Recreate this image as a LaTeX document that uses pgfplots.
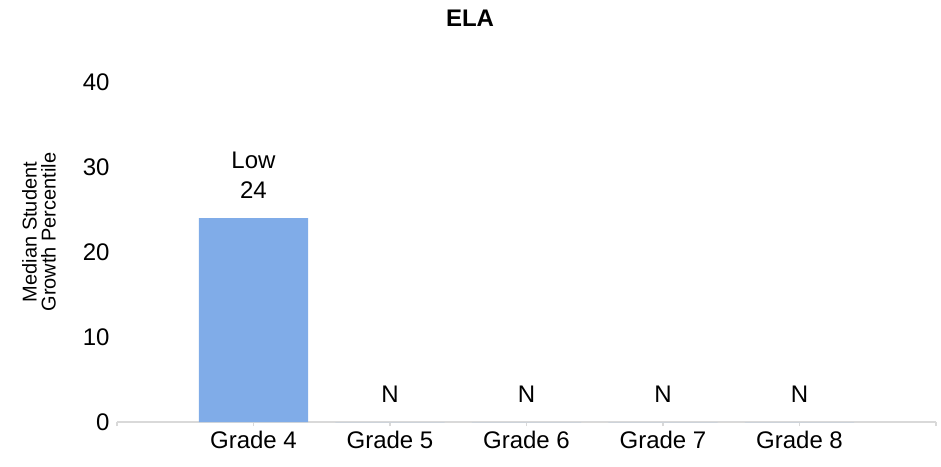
\documentclass[border=0pt]{standalone}
\usepackage{fontspec}
\setmainfont{Liberation Sans}
\usepackage{pgfplots}
\pgfplotsset{compat=1.18}
\definecolor{barblue}{HTML}{80ACE8}
\definecolor{axisgray}{HTML}{D9D9D9}
\newcommand{\chartfont}{\fontsize{24}{30}\selectfont}
\begin{document}
\begin{tikzpicture}[x=1pt,y=1pt]
\path (0,0) rectangle (941,466);
\begin{axis}[
  at={(117pt,44pt)}, anchor=south west,
  scale only axis, width=819pt, height=340pt,
  xmin=-1, xmax=5, ymin=0, ymax=40,
  xtick={-1,0,1,2,3,4,5},
  xticklabels={{},Grade 4,Grade 5,Grade 6,Grade 7,Grade 8,{}},
  ytick={0,10,20,30,40},
  /pgf/number format/assume math mode=true,
  tick label style={font=\chartfont},
  xticklabel style={yshift=-2pt},
  axis lines*=left,
  y axis line style={draw=none},
  x axis line style={draw=axisgray, line width=1.5pt},
  ytick style={draw=none},
  xtick style={draw=axisgray, line width=1.5pt},
  tick align=outside, major tick length=4pt,
  clip=false,
  nodes near coords,
  point meta=explicit symbolic,
  every node near coord/.append style={font=\chartfont, align=center, anchor=south, inner sep=0pt, yshift=19pt, text=black},
]
\addplot[ybar, bar width=0.8, fill=barblue, draw=none] coordinates {
  (0,24) [Low\\24]
  (1,0) [N]
  (2,0) [N]
  (3,0) [N]
  (4,0) [N]
};
\end{axis}
\node[font=\bfseries\chartfont] at (470,448) {ELA};
\node[rotate=90, align=center, font=\fontsize{20}{19}\selectfont] at (39,234) {Median Student\\Growth Percentile};
\end{tikzpicture}
\end{document}
